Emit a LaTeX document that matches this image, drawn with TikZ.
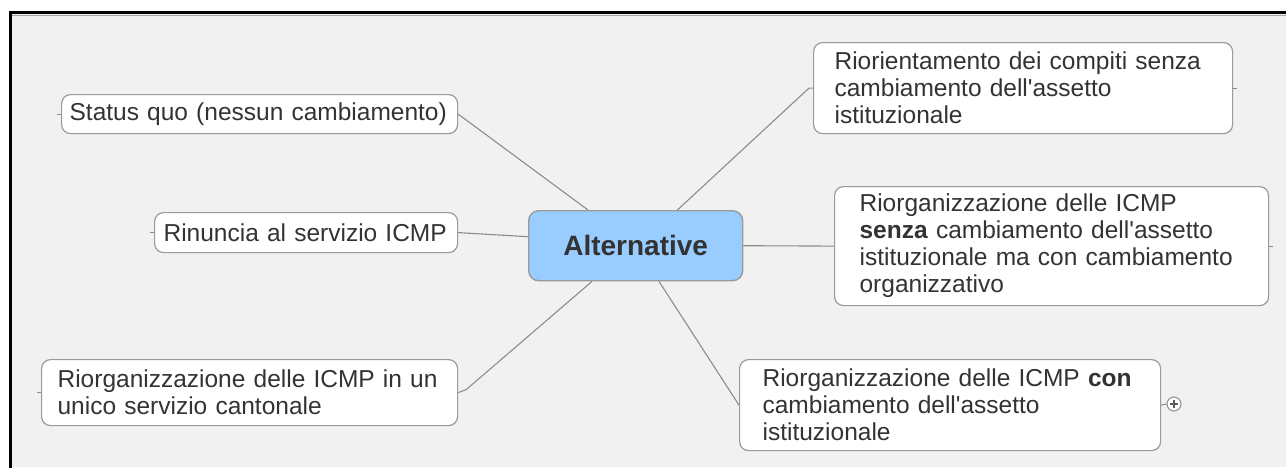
\documentclass[tikz,border=0pt]{standalone}
\usepackage{fontspec}
\setmainfont{Liberation Sans}
\newfontfamily\nomapfont{Liberation Sans}
\definecolor{bg}{HTML}{F1F1F1}
\definecolor{boxline}{HTML}{9A9A9A}
\definecolor{txt}{HTML}{333333}
\definecolor{central}{HTML}{99CCFF}
\definecolor{wire}{HTML}{8C8C8C}
\newcommand{\apos}{{\nomapfont'}}
\tikzset{
  box/.style={draw=boxline, line width=1.2pt, fill=white, rounded corners=9pt,
    anchor=north west, align=left, text=txt, inner ysep=0pt,
    font=\fontsize{24.5}{27}\selectfont},
  centralbox/.style={draw=boxline, line width=1.4pt, fill=central, rounded corners=10pt,
    text=txt, font=\fontsize{28}{30}\selectfont\bfseries, anchor=north west,
    minimum width=214pt, minimum height=70pt, inner sep=0pt},
  wireline/.style={draw=wire, line width=1.1pt},
  stub/.style={draw=wire, line width=1pt}
}
\begin{document}
\begin{tikzpicture}[x=1pt,y=-1pt]
\useasboundingbox (0,0) rectangle (1286,467);
\fill[white] (0,0) rectangle (1286,467);
\fill[bg] (10.5,12.5) rectangle (1286,467);
\draw[gray!70, line width=1.2pt] (12,15.5) -- (1286,15.5);
\draw[black, line width=2.4pt] (10.5,480) -- (10.5,12.5) -- (1286,12.5);

\node[centralbox] (alt) at (528,210) {Alternative};

\node[box, minimum width=396pt, minimum height=39pt, inner xsep=8pt, text width=380pt] (sq) at (61,94)
  {Status quo (nessun cambiamento)};
\node[box, minimum width=303pt, minimum height=40pt, inner xsep=9pt, text width=285pt] (rin) at (154,212)
  {\mbox{Rinuncia al servizio ICMP}};
\node[box, minimum width=416pt, minimum height=66pt, inner xsep=16pt, text width=384pt] (uni) at (41,359)
  {Riorganizzazione delle ICMP in un\\unico servizio cantonale};
\node[box, minimum width=419pt, minimum height=91pt, inner xsep=21pt, text width=377pt] (rior) at (813,42)
  {Riorientamento dei compiti senza\\cambiamento dell\apos assetto\\istituzionale};
\node[box, minimum width=434pt, minimum height=119pt, inner xsep=25pt, text width=384pt] (sen) at (834,186)
  {Riorganizzazione delle ICMP\\\textbf{senza} cambiamento dell\apos assetto\\istituzionale ma con cambiamento\\organizzativo};
\node[box, minimum width=421pt, minimum height=91pt, inner xsep=23pt, text width=375pt] (con) at (739,359)
  {Riorganizzazione delle ICMP \textbf{con}\\cambiamento dell\apos assetto\\istituzionale};

\node[circle, draw=boxline, line width=1.2pt, fill=white, minimum size=14pt, inner sep=0pt] (exp) at (1174,404) {};
\draw[txt!80, line width=1.3pt] ([xshift=-4pt]exp.center) -- ([xshift=4pt]exp.center)
  ([yshift=-4pt]exp.center) -- ([yshift=4pt]exp.center);

% connectors
\draw[wireline] (sq.east) -- ([xshift=60pt]alt.north west);
\draw[wireline] (rin.east) -- ([yshift=9pt]alt.west);
\draw[wireline] (uni.east) -- ++(8,-3) -- ([xshift=64pt]alt.south west);
\draw[wireline] (rior.west) -- ++(-4,0) -- ([xshift=-66pt]alt.north east);
\draw[wireline] (sen.west) -- (alt.east);
\draw[wireline] (con.west) -- ([xshift=131pt]alt.south west);
\draw[stub] (con.east) -- (exp.west);

% outer stubs
\draw[stub] (sq.west) -- ++(-4,0);
\draw[stub] (rin.west) -- ++(-4,0);
\draw[stub] (uni.west) -- ++(-4,0);
\draw[stub] (rior.east) -- ++(4,0);
\draw[stub] (sen.east) -- ++(4,0);
\end{tikzpicture}
\end{document}
